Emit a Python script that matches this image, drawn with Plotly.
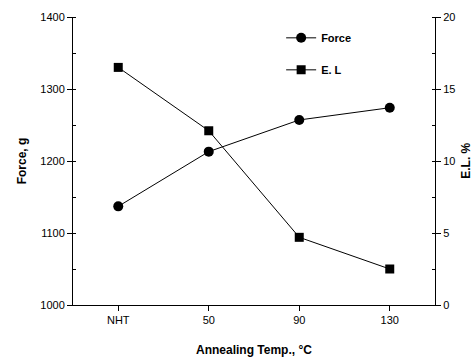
import plotly.graph_objects as go

categories = ["NHT", "50", "90", "130"]
force = [1137, 1213, 1257, 1274]
el = [16.5, 12.1, 4.7, 2.5]

fig = go.Figure()
fig.add_trace(go.Scatter(x=categories, y=force, name="Force", mode="lines+markers", legendgroup="a",
                         line=dict(color="black", width=1),
                         marker=dict(symbol="circle", size=10, color="black")))
fig.add_trace(go.Scatter(x=categories, y=el, name="E. L", mode="lines+markers", yaxis="y2", legendgroup="b",
                         line=dict(color="black", width=1),
                         marker=dict(symbol="square", size=9, color="black")))

font = dict(family="Liberation Sans, Arial, sans-serif", color="black")
tfont = dict(size=12, weight="bold", **font)
fig.update_layout(
    width=475, height=363,
    margin=dict(l=73, r=40, t=17, b=58),
    paper_bgcolor="white", plot_bgcolor="white",
    font=dict(size=11, **font),
    showlegend=True,
    legend=dict(x=0.575, y=0.978, xanchor="left", yanchor="top", bgcolor="rgba(0,0,0,0)",
                font=dict(size=11, weight="bold", **font), traceorder="grouped",
                tracegroupgap=13, itemwidth=30),
    xaxis=dict(type="category", range=[-0.5, 3.5], showline=True, linecolor="black", linewidth=1,
               ticks="outside", ticklen=5, tickcolor="black", showgrid=False, zeroline=False),
    yaxis=dict(range=[1000, 1400], dtick=100, showline=True, linecolor="black", linewidth=1,
               ticks="outside", ticklen=5, tickcolor="black", showgrid=False, zeroline=False,
               minor=dict(dtick=50, ticks="inside", ticklen=3, tickcolor="black")),
    yaxis2=dict(range=[0, 20], dtick=5, overlaying="y", side="right", showline=True, linecolor="black",
                linewidth=1, ticks="outside", ticklen=5, tickcolor="black", showgrid=False, zeroline=False,
                minor=dict(dtick=2.5, ticks="inside", ticklen=3, tickcolor="black")),
    annotations=[
        dict(text="Force, g", xref="paper", yref="paper", x=-0.14, y=0.5, showarrow=False,
             textangle=-90, font=tfont, xanchor="center", yanchor="middle"),
        dict(text="E.L. %", xref="paper", yref="paper", x=1.085, y=0.5, showarrow=False,
             textangle=-90, font=tfont, xanchor="center", yanchor="middle"),
        dict(text="Annealing Temp., °C", xref="paper", yref="paper", x=0.5, y=-0.155, showarrow=False,
             font=tfont, xanchor="center", yanchor="middle"),
    ],
)

fig.write_html("out.html", config={"displayModeBar": False},
               post_script="document.body.style.margin='0';document.body.style.overflow='hidden';")
